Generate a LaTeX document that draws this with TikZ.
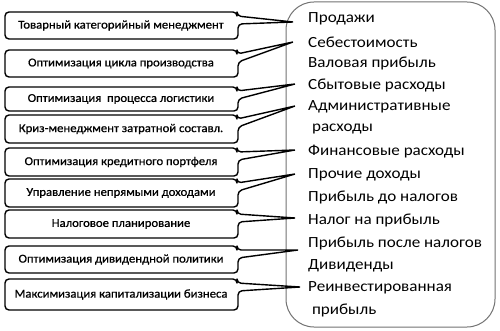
\documentclass[tikz,border=0pt]{standalone}
\usepackage{fontspec}
\setmainfont{Carlito}
\newfontfamily\leftfont[FakeStretch=1.06,FakeBold=0.8]{Carlito}
\newfontfamily\rightfont[FakeStretch=1.1]{Carlito}
\begin{document}
\begin{tikzpicture}[x=1pt,y=-1pt,
  lbl/.style={font=\leftfont\fontsize{12}{13}\selectfont, inner sep=0pt, anchor=center},
  rlbl/.style={font=\rightfont\fontsize{15.5}{16}\selectfont, inner sep=0pt, anchor=west},
  callout/.style={draw=black, line width=1.4pt, line join=round},
  panel/.style={draw=black!55, line width=1pt, rounded corners=28pt}]
\useasboundingbox (0,0) rectangle (500,331);
\fill[white] (0,0) rectangle (500,331);
% right panel
\draw[panel] (286,2) rectangle (495,327);
% right texts
\foreach \n/\yy/\t in {1/19/Продажи, 2/42/Себестоимость, 3/63/Валовая прибыль, 4/85/Сбытовые расходы,
  5/107/Административные, 6/129/{\ расходы}, 7/152/Финансовые расходы, 8/175/Прочие доходы,
  9/197/Прибыль до налогов, 10/220/Налог на прибыль, 11/243/Прибыль после налогов,
  12/266/Дивиденды, 13/288/Реинвестированная, 14/310/{\ прибыль}}
  \node[rlbl] (r\n) at (308,\yy) {\t};
% left callouts
\foreach \n/\tp/\bt/\tx/\ty/\t in {
  1/12/39/293/22/Товарный категорийный менеджмент,
  2/50/77/293/42/Оптимизация цикла производства,
  3/87/111/295/84/Оптимизация\ \ процесса логистики,
  4/115/143/295/106/Криз-менеджмент затратной составл.,
  5/148/176/295/150/Оптимизация кредитного портфеля,
  6/179/207/295/174/Управление непрямыми доходами,
  7/210/238/295/218/Налоговое планирование,
  8/246/273/298/250/Оптимизация дивидендной политики,
  9/279/310/300/287/Максимизация капитализации бизнеса}
{
  \coordinate (tip\n) at (\tx,\ty);
  \draw[callout] (tip\n) [rounded corners=4pt] -- (237,\tp+4) -- (237,\tp) -- (5,\tp) -- (5,\bt)
     -- (238,\bt) -- (238,\tp+12) [sharp corners] -- (tip\n);
  \node[lbl] (l\n) at (121,{(\tp+\bt)/2}) {\t};
}
\end{tikzpicture}
\end{document}
